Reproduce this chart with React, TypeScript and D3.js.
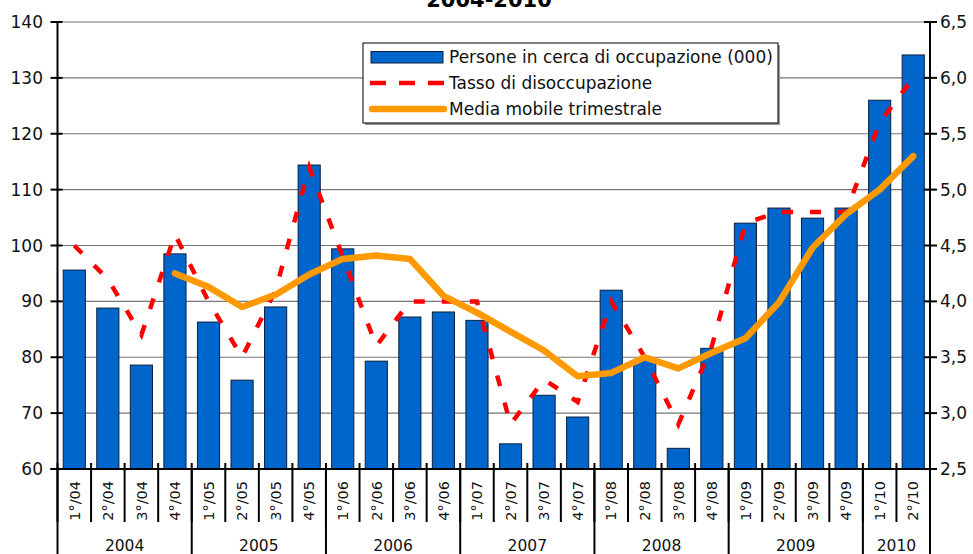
import { useEffect, useRef } from "react";
import * as d3 from "d3";

// Chart data
const quarters = [
    "1°/04", "2°/04", "3°/04", "4°/04",
    "1°/05", "2°/05", "3°/05", "4°/05",
    "1°/06", "2°/06", "3°/06", "4°/06",
    "1°/07", "2°/07", "3°/07", "4°/07",
    "1°/08", "2°/08", "3°/08", "4°/08",
    "1°/09", "2°/09", "3°/09", "4°/09",
    "1°/10", "2°/10"
];
const years = ["2004", "2005", "2006", "2007", "2008", "2009", "2010"];

// Persone in cerca di occupazione (000)
const persone = [
    95.6, 88.8, 78.6, 98.5,
    86.3, 75.9, 89.0, 114.4,
    99.4, 79.3, 87.2, 88.1,
    86.6, 64.5, 73.2, 69.3,
    92.0, 79.5, 63.7, 81.6,
    104.0, 106.7, 104.9, 106.7,
    126.0, 134.1
];

// Tasso di disoccupazione (%)
const tasso = [
    4.5, 4.2, 3.7, 4.6,
    4.0, 3.5, 4.1, 5.2,
    4.4, 3.6, 4.0, 4.0,
    4.0, 2.9, 3.3, 3.1,
    4.0, 3.5, 2.9, 3.6,
    4.7, 4.8, 4.8, 4.8,
    5.6, 6.0
];

// Media mobile (starts at 4°/04)
const media: (number | null)[] = [
    null, null, null, 4.25,
    4.13, 3.95, 4.06, 4.24,
    4.38, 4.41, 4.38, 4.05,
    3.9, 3.73, 3.56, 3.33,
    3.36, 3.5, 3.4, 3.54,
    3.67, 3.99, 4.48, 4.78,
    5.0, 5.3
];

const leftTicks = [60, 70, 80, 90, 100, 110, 120, 130, 140];
const rightTicks = [2.5, 3.0, 3.5, 4.0, 4.5, 5.0, 5.5, 6.0, 6.5];

const legendItems = [
    "Persone in cerca di occupazione (000)",
    "Tasso di disoccupazione",
    "Media mobile trimestrale"
];

const FONT = "'DejaVu Sans', Verdana, sans-serif";

export default function App(): JSX.Element {
    const width = 973;
    const height = 554;
    const svgRef = useRef<SVGSVGElement>(null);

    useEffect(() => {
        const svg = d3.select(svgRef.current);
        svg.selectAll("*").remove();

        const left = 57.5;
        const right = 930;
        const top = 22;
        const bottom = 469;

        const x = d3.scaleBand<string>()
            .domain(quarters)
            .range([left, right])
            .paddingInner(0.34)
            .paddingOuter(0.17);
        const step = (right - left) / quarters.length;

        const yL = d3.scaleLinear().domain([60, 140]).range([bottom, top]);
        const yR = d3.scaleLinear().domain([2.5, 6.5]).range([bottom, top]);

        svg.append("rect")
            .attr("width", width).attr("height", height)
            .attr("fill", "#ffffff");

        // Title (cut at the top in the original)
        svg.append("text")
            .attr("x", 489).attr("y", 7)
            .attr("text-anchor", "middle")
            .attr("font-family", FONT)
            .attr("font-weight", "bold")
            .attr("font-size", 21)
            .text("2004-2010");

        // Gridlines
        svg.append("g").selectAll("line")
            .data(leftTicks.slice(1))
            .enter().append("line")
            .attr("x1", left).attr("x2", right)
            .attr("y1", d => yL(d)).attr("y2", d => yL(d))
            .attr("stroke", "#777777")
            .attr("stroke-width", 1.2);

        // Bars
        svg.append("g").selectAll("rect")
            .data(persone)
            .enter().append("rect")
            .attr("x", (d, i) => x(quarters[i])!)
            .attr("width", x.bandwidth())
            .attr("y", d => yL(d))
            .attr("height", d => bottom - yL(d))
            .attr("fill", "#0066cc")
            .attr("stroke", "#0a1f3d")
            .attr("stroke-width", 1);

        const cx = (i: number) => x(quarters[i])! + x.bandwidth() / 2;

        // Tasso di disoccupazione, dashed red
        const tassoLine = d3.line<number>()
            .x((d, i) => cx(i))
            .y(d => yR(d));
        svg.append("path")
            .attr("d", tassoLine(tasso))
            .attr("fill", "none")
            .attr("stroke", "#ff0000")
            .attr("stroke-width", 4.5)
            .attr("stroke-dasharray", "11,17");

        // Media mobile, orange
        const mediaLine = d3.line<number | null>()
            .defined(d => d !== null)
            .x((d, i) => cx(i))
            .y(d => yR(d as number));
        svg.append("path")
            .attr("d", mediaLine(media))
            .attr("fill", "none")
            .attr("stroke", "#ff9900")
            .attr("stroke-width", 6.5)
            .attr("stroke-linejoin", "round")
            .attr("stroke-linecap", "round");

        // Axes lines
        const axisG = svg.append("g").attr("stroke", "#000").attr("stroke-width", 2);
        axisG.append("line").attr("x1", left).attr("x2", left).attr("y1", top).attr("y2", bottom);
        axisG.append("line").attr("x1", right).attr("x2", right).attr("y1", top).attr("y2", bottom);
        axisG.append("line").attr("x1", left - 7).attr("x2", right + 7).attr("y1", bottom).attr("y2", bottom);

        // Left ticks
        axisG.selectAll(".lt")
            .data(leftTicks)
            .enter().append("line")
            .attr("x1", left - 7).attr("x2", left + 5)
            .attr("y1", d => yL(d)).attr("y2", d => yL(d));
        svg.append("g").selectAll("text")
            .data(leftTicks)
            .enter().append("text")
            .attr("x", 43).attr("y", d => yL(d))
            .attr("dy", "0.36em")
            .attr("text-anchor", "end")
            .attr("font-family", FONT)
            .attr("font-size", 17)
            .attr("fill", "#111")
            .text(d => d3.format("d")(d));

        // Right ticks
        axisG.selectAll(".rt")
            .data(rightTicks)
            .enter().append("line")
            .attr("x1", right - 6).attr("x2", right + 7)
            .attr("y1", d => yR(d)).attr("y2", d => yR(d));
        svg.append("g").selectAll("text")
            .data(rightTicks)
            .enter().append("text")
            .attr("x", 940).attr("y", d => yR(d))
            .attr("dy", "0.36em")
            .attr("font-family", FONT)
            .attr("font-size", 17)
            .attr("fill", "#111")
            .text(d => d3.format(".1f")(d).replace(".", ","));

        // Category dividers
        axisG.selectAll(".cd")
            .data(d3.range(quarters.length + 1))
            .enter().append("line")
            .attr("x1", i => left + i * step).attr("x2", i => left + i * step)
            .attr("y1", bottom - 6).attr("y2", 522);

        // Year dividers
        const yearStarts = [0, 4, 8, 12, 16, 20, 24, 26];
        axisG.selectAll(".yd")
            .data(yearStarts)
            .enter().append("line")
            .attr("x1", i => left + i * step).attr("x2", i => left + i * step)
            .attr("y1", bottom).attr("y2", height);

        // Category labels (rotated)
        svg.append("g").selectAll("text")
            .data(quarters)
            .enter().append("text")
            .attr("transform", (d, i) => `translate(${cx(i)},481) rotate(-90)`)
            .attr("dy", "0.36em")
            .attr("text-anchor", "end")
            .attr("font-family", FONT)
            .attr("font-size", 14.5)
            .attr("fill", "#111")
            .text(d => d);

        // Year labels
        svg.append("g").selectAll("text")
            .data(years)
            .enter().append("text")
            .attr("x", (d, i) => left + ((yearStarts[i] + yearStarts[i + 1]) / 2) * step)
            .attr("y", 551)
            .attr("text-anchor", "middle")
            .attr("font-family", FONT)
            .attr("font-size", 15.5)
            .attr("fill", "#111")
            .text(d => d);

        // Legend
        const lg = svg.append("g");
        lg.append("rect")
            .attr("x", 365).attr("y", 45).attr("width", 415).attr("height", 80)
            .attr("fill", "#999");
        lg.append("rect")
            .attr("x", 363).attr("y", 43).attr("width", 415).attr("height", 80)
            .attr("fill", "#fff").attr("stroke", "#000").attr("stroke-width", 1);
        const rowY = [57, 83, 109];
        lg.append("rect")
            .attr("x", 371).attr("y", rowY[0] - 5.5).attr("width", 72).attr("height", 11.5)
            .attr("fill", "#0066cc").attr("stroke", "#0a1f3d").attr("stroke-width", 1);
        lg.append("line")
            .attr("x1", 370).attr("x2", 445).attr("y1", rowY[1]).attr("y2", rowY[1])
            .attr("stroke", "#ff0000").attr("stroke-width", 4.5)
            .attr("stroke-dasharray", "16,13");
        lg.append("line")
            .attr("x1", 372).attr("x2", 444).attr("y1", rowY[2]).attr("y2", rowY[2])
            .attr("stroke", "#ff9900").attr("stroke-width", 6.5)
            .attr("stroke-linecap", "round");
        lg.selectAll("text")
            .data(legendItems)
            .enter().append("text")
            .attr("x", 449).attr("y", (d, i) => rowY[i])
            .attr("dy", "0.36em")
            .attr("font-family", FONT)
            .attr("font-size", 17)
            .attr("fill", "#111")
            .text(d => d);
    }, []);

    return (
        <svg
            ref={svgRef}
            width={width}
            height={height}
            style={{ position: "absolute", left: 0, top: 0, display: "block" }}
        />
    );
}
